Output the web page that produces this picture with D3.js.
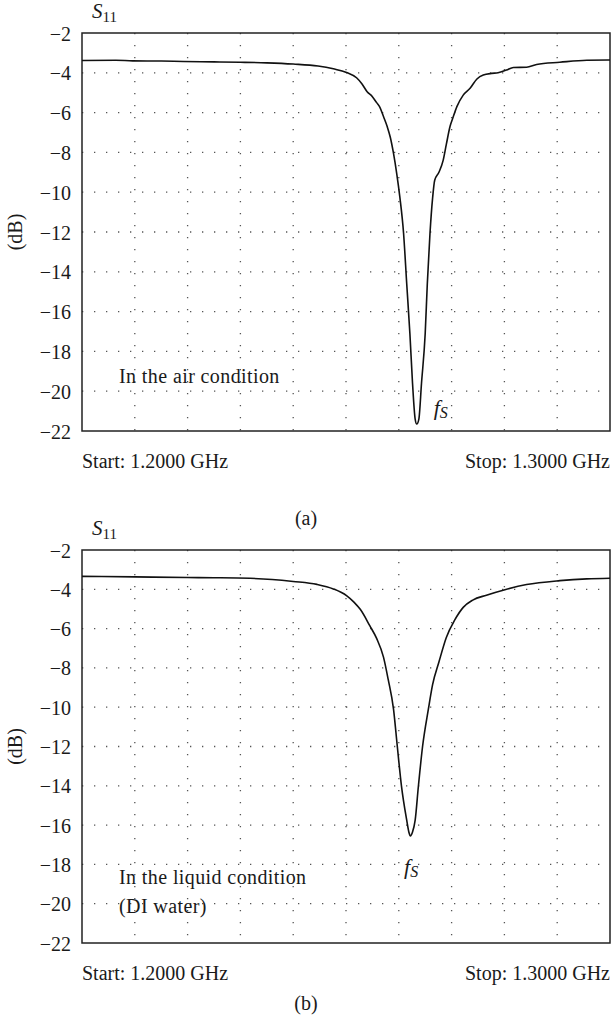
<!DOCTYPE html>
<html>
<head>
<meta charset="utf-8">
<script src="https://cdn.jsdelivr.net/npm/d3@7"></script>
<style>
  body { margin: 0; background: #fff; }
  svg text { font-family: "Liberation Serif", "Times New Roman", serif; fill: #1a1a1a; }
</style>
</head>
<body>
<div id="chart"></div>
<script>
// S11 sweep, air condition (GHz, dB)
var airFreq = [1.2000, 1.2064, 1.2096, 1.2150, 1.2192, 1.2250, 1.2300, 1.2350, 1.2400, 1.2447,
    1.2476, 1.2501, 1.2520, 1.2530, 1.2540, 1.2550, 1.2558, 1.2564, 1.2571, 1.2578,
    1.2584, 1.2590, 1.2596, 1.2602, 1.2609, 1.2615, 1.2621, 1.2626, 1.2631, 1.2634,
    1.2638, 1.2643, 1.2650, 1.2654, 1.2659, 1.2664, 1.2668, 1.2676, 1.2684, 1.2690,
    1.2697, 1.2702, 1.2710, 1.2722, 1.2735, 1.2748, 1.2760, 1.2776, 1.2788, 1.2804,
    1.2817, 1.2842, 1.2861, 1.2905, 1.2956, 1.3000];
var airS11 = [-3.38, -3.37, -3.40, -3.41, -3.43, -3.45, -3.47, -3.50, -3.56, -3.66,
    -3.80, -3.98, -4.25, -4.55, -4.95, -5.20, -5.50, -5.72, -6.20, -6.70,
    -7.25, -8.05, -9.05, -10.25, -12.05, -14.6, -17.1, -19.6, -21.4, -21.65,
    -21.4, -19.6, -17.1, -14.6, -12.1, -10.3, -9.4, -9.0, -8.4, -7.6,
    -6.7, -6.3, -5.7, -5.12, -4.78, -4.31, -4.11, -4.03, -4.00, -3.86,
    -3.73, -3.72, -3.58, -3.47, -3.37, -3.36];

// S11 sweep, liquid condition (DI water)
var liquidFreq = [1.2000, 1.2100, 1.2200, 1.2250, 1.2318, 1.2360, 1.2400, 1.2445, 1.2476, 1.2501,
    1.2515, 1.2527, 1.2545, 1.2558, 1.2571, 1.2580, 1.2590, 1.2597, 1.2605, 1.2615,
    1.2619, 1.2622, 1.2626, 1.2631, 1.2637, 1.2645, 1.2656, 1.2664, 1.2676, 1.2690,
    1.2706, 1.2722, 1.2740, 1.2766, 1.2801, 1.2842, 1.2905, 1.2956, 1.3000];
var liquidS11 = [-3.34, -3.37, -3.40, -3.41, -3.44, -3.50, -3.60, -3.75, -3.98, -4.32,
    -4.65, -5.02, -5.85, -6.50, -7.45, -8.60, -10.10, -11.95, -14.0, -15.75,
    -16.35, -16.55, -16.35, -15.75, -14.05, -12.0, -10.1, -8.85, -7.7, -6.45,
    -5.56, -4.92, -4.55, -4.30, -4.02, -3.76, -3.56, -3.47, -3.44];

var yTicks = [-2, -4, -6, -8, -10, -12, -14, -16, -18, -20, -22];
var xGrid = [1.21, 1.22, 1.23, 1.24, 1.25, 1.26, 1.27, 1.28, 1.29];
var startLabel = "Start: 1.2000 GHz";
var stopLabel = "Stop: 1.3000 GHz";

var width = 611, height = 1024;
var svg = d3.select('#chart').append('svg')
    .attr('width', width)
    .attr('height', height);

function drawPanel(opts) {
    var left = 82, right = 610;
    var top = opts.top, bottom = opts.bottom;

    var x = d3.scaleLinear().domain([1.2, 1.3]).range([left, right]);
    var y = d3.scaleLinear().domain([-22, -2]).range([bottom, top]);

    var g = svg.append('g').attr('class', 'panel');

    // dotted grid
    g.append('g').selectAll('line.h')
        .data(yTicks.filter(function (d) { return d > -22 && d < -2; }))
        .enter().append('line')
        .attr('x1', left).attr('x2', right)
        .attr('y1', y).attr('y2', y)
        .style('stroke', '#555')
        .style('stroke-width', 1.3)
        .style('stroke-dasharray', '1.3 10.7');

    g.append('g').selectAll('line.v')
        .data(xGrid)
        .enter().append('line')
        .attr('x1', x).attr('x2', x)
        .attr('y1', top).attr('y2', bottom)
        .style('stroke', '#555')
        .style('stroke-width', 1.3)
        .style('stroke-dasharray', '1.3 10.7');

    // frame
    g.append('rect')
        .attr('x', left).attr('y', top)
        .attr('width', right - left).attr('height', bottom - top)
        .style('fill', 'none')
        .style('stroke', '#222')
        .style('stroke-width', 1.5);

    // y axis labels
    var yAxis = d3.axisLeft(y)
        .tickValues(yTicks)
        .tickSize(0)
        .tickPadding(11);
    var ya = g.append('g')
        .attr('transform', 'translate(' + left + ',0)')
        .call(yAxis);
    ya.select('.domain').remove();
    ya.selectAll('text')
        .style('font-family', '"Liberation Serif", serif')
        .style('font-size', '20px')
        .attr('dy', '0.35em')
        .attr('fill', '#1a1a1a');

    // curve
    var pts = opts.freq.map(function (f, i) { return [f, opts.s11[i]]; });
    g.append('path')
        .datum(pts)
        .attr('d', d3.line()
            .x(function (d) { return x(d[0]); })
            .y(function (d) { return y(d[1]); })
            .curve(d3.curveMonotoneX))
        .style('fill', 'none')
        .style('stroke', '#111')
        .style('stroke-width', 1.6);

    // S11 title
    var t = g.append('text')
        .attr('x', 92).attr('y', top - 15)
        .style('font-size', '21px');
    t.append('tspan').style('font-style', 'italic').text('S');
    t.append('tspan').attr('dy', 4).style('font-size', '15px').text('11');

    // (dB)
    g.append('text')
        .attr('transform', 'translate(22,' + ((top + bottom) / 2) + ') rotate(-90)')
        .attr('text-anchor', 'middle')
        .style('font-size', '20px')
        .text('(dB)');

    // start/stop
    g.append('text')
        .attr('x', left).attr('y', bottom + 37)
        .style('font-size', '20px')
        .text(startLabel);
    g.append('text')
        .attr('x', 610).attr('y', bottom + 37)
        .attr('text-anchor', 'end')
        .style('font-size', '20px')
        .text(stopLabel);

    // condition notes
    opts.notes.forEach(function (n, i) {
        g.append('text')
            .attr('x', 119).attr('y', y(opts.noteDb) + i * 29)
            .style('font-size', '20px')
            .style('letter-spacing', '0.4px')
            .text(n);
    });

    // f_S
    var fs = g.append('text')
        .attr('x', x(opts.fsFreq)).attr('y', y(opts.fsDb))
        .style('font-size', '22px')
        .style('font-style', 'italic');
    fs.append('tspan').text('f');
    fs.append('tspan').attr('dy', 3).style('font-size', '16px').text('S');

    // panel caption
    g.append('text')
        .attr('x', 306).attr('y', opts.captionY)
        .attr('text-anchor', 'middle')
        .style('font-size', '20px')
        .text(opts.caption);
}

drawPanel({
    top: 33, bottom: 431,
    freq: airFreq, s11: airS11,
    notes: ['In the air condition'], noteDb: -19.6,
    fsFreq: 1.2666, fsDb: -21.2,
    caption: '(a)', captionY: 525
});

drawPanel({
    top: 550, bottom: 943,
    freq: liquidFreq, s11: liquidS11,
    notes: ['In the liquid condition', '(DI water)'], noteDb: -19.0,
    fsFreq: 1.2610, fsDb: -18.5,
    caption: '(b)', captionY: 1010
});
</script>
</body>
</html>
